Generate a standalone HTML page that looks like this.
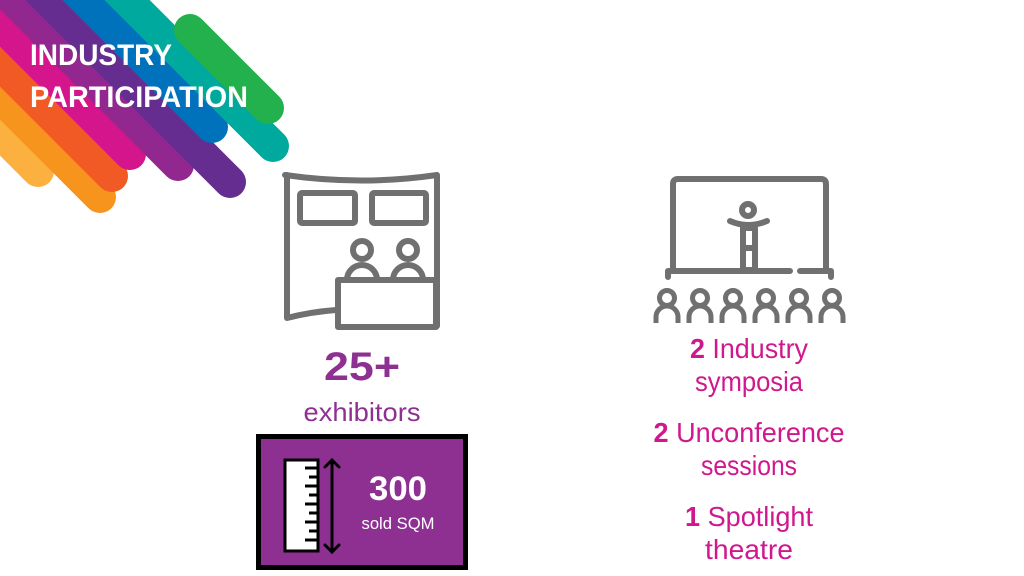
<!DOCTYPE html>
<html><head><style>
html,body{margin:0;padding:0;background:#fff;width:1024px;height:576px;overflow:hidden}
svg{display:block}
text{font-family:"Liberation Sans",sans-serif}
</style></head><body>
<svg width="1024" height="576" viewBox="0 0 1024 576" xmlns="http://www.w3.org/2000/svg">
<g stroke-linecap="round" stroke-width="32" fill="none">
  <line x1="-40" y1="93" x2="38" y2="171" stroke="#FBB040"/>
  <line x1="-60" y1="37" x2="100" y2="197" stroke="#F7941D"/>
  <line x1="-60" y1="4" x2="112" y2="176" stroke="#F15A24"/>
  <line x1="-60" y1="-36" x2="130" y2="154" stroke="#D4158C"/>
  <line x1="-60" y1="-73" x2="178" y2="165" stroke="#92278F"/>
  <line x1="-30" y1="-78" x2="230" y2="182" stroke="#662D91"/>
  <line x1="20" y1="-65" x2="212" y2="127" stroke="#0072BC"/>
  <line x1="60" y1="-67" x2="273" y2="146" stroke="#00A99D"/>
  <line x1="190" y1="30" x2="268" y2="108" stroke="#22B14C"/>
</g>
<text x="30" y="65" font-size="30" font-weight="bold" fill="#fff" textLength="142" lengthAdjust="spacingAndGlyphs">INDUSTRY</text>
<text x="30" y="107" font-size="30" font-weight="bold" fill="#fff" textLength="218" lengthAdjust="spacingAndGlyphs">PARTICIPATION</text>

<g stroke="#707070" stroke-width="6" fill="none" stroke-linejoin="round" stroke-linecap="round">
  <path d="M285 175 Q361 186 437 175 L437 326"/>
  <path d="M287 175 L287 318 Q310 312 336 310"/>
  <rect x="300" y="193" width="55" height="30" rx="2"/>
  <rect x="372" y="193" width="54" height="30" rx="2"/>
  <circle cx="362" cy="250" r="9"/>
  <circle cx="408" cy="250" r="9"/>
  <path d="M347 280 A15 15 0 0 1 377 280"/>
  <path d="M393 280 A15 15 0 0 1 423 280"/>
  <rect x="338" y="280" width="98" height="47"/>
</g>

<g stroke="#707070" stroke-width="6" fill="none" stroke-linejoin="round" stroke-linecap="round">
  <path d="M673 270 L673 184 Q673 179 678 179 L821 179 Q826 179 826 184 L826 270"/>
  <path d="M668 277 L668 271 L790 271"/>
  <path d="M800 271 L831 271 L831 277"/>
  <circle cx="748" cy="210" r="6"/>
  <path d="M730 221 Q748 229 767 221"/>
  <rect x="743" y="228" width="12" height="42"/>
  <line x1="743" y1="248" x2="755" y2="248"/>
</g>
<g stroke="#707070" stroke-width="5" fill="none">
  <g id="p"><circle cx="667" cy="298" r="7.5"/><path d="M656 323 L656 317 A11 11 0 0 1 678 317 L678 323"/></g>
  <use href="#p" x="33"/><use href="#p" x="66"/><use href="#p" x="99"/><use href="#p" x="132"/><use href="#p" x="165"/>
</g>

<text x="362" y="380" font-size="40" font-weight="bold" fill="#8E3092" text-anchor="middle" textLength="76" lengthAdjust="spacingAndGlyphs">25+</text>
<text x="362" y="421" font-size="26" fill="#8E3092" text-anchor="middle" textLength="117" lengthAdjust="spacingAndGlyphs">exhibitors</text>

<rect x="258.5" y="436.5" width="207" height="131" fill="#8E3092" stroke="#000" stroke-width="5"/>
<rect x="285" y="460" width="33" height="91" fill="#fff" stroke="#000" stroke-width="3"/>
<g stroke="#000" stroke-width="3">
  <line x1="305" y1="468" x2="318" y2="468"/><line x1="309" y1="477" x2="318" y2="477"/>
  <line x1="305" y1="486" x2="318" y2="486"/><line x1="309" y1="495" x2="318" y2="495"/>
  <line x1="305" y1="504" x2="318" y2="504"/><line x1="309" y1="513" x2="318" y2="513"/>
  <line x1="305" y1="522" x2="318" y2="522"/><line x1="309" y1="531" x2="318" y2="531"/>
  <line x1="305" y1="540" x2="318" y2="540"/>
</g>
<g stroke="#000" stroke-width="3" fill="none" stroke-linecap="round">
  <line x1="332" y1="460" x2="332" y2="552"/>
  <path d="M325 467 L332 460 L339 467"/>
  <path d="M325 545 L332 552 L339 545"/>
</g>
<text x="398" y="500" font-size="34" font-weight="bold" fill="#fff" text-anchor="middle" textLength="58" lengthAdjust="spacingAndGlyphs">300</text>
<text x="398" y="529" font-size="17" fill="#fff" text-anchor="middle" textLength="73" lengthAdjust="spacingAndGlyphs">sold SQM</text>

<g fill="#D0188E" font-size="28" text-anchor="middle">
  <text x="749" y="358" textLength="118" lengthAdjust="spacingAndGlyphs"><tspan font-weight="bold">2</tspan> Industry</text>
  <text x="749" y="391" textLength="108" lengthAdjust="spacingAndGlyphs">symposia</text>
  <text x="749" y="442" textLength="191" lengthAdjust="spacingAndGlyphs"><tspan font-weight="bold">2</tspan> Unconference</text>
  <text x="749" y="475" textLength="96" lengthAdjust="spacingAndGlyphs">sessions</text>
  <text x="749" y="526" textLength="128" lengthAdjust="spacingAndGlyphs"><tspan font-weight="bold">1</tspan> Spotlight</text>
  <text x="749" y="559" textLength="88" lengthAdjust="spacingAndGlyphs">theatre</text>
</g>
</svg>
</body></html>
